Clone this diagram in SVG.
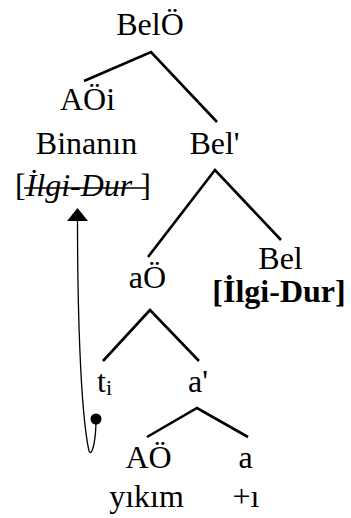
<svg xmlns="http://www.w3.org/2000/svg" width="351" height="518" viewBox="0 0 351 518">
<style>
text{font-family:"Liberation Serif","Times New Roman",serif;font-size:32px;fill:#000}
.m{text-anchor:middle}
.b{font-weight:bold}
.br{fill:none;stroke:#000;stroke-width:2.6;stroke-linecap:butt;stroke-linejoin:miter}
.mv{fill:none;stroke:#000;stroke-width:1.3}
</style>
<rect width="351" height="518" fill="#fff"/>
<g id="connectors">
<polyline class="br" points="84,81 151,52 217,122"/>
<polyline class="br" points="148,257 215,170 281,240"/>
<polyline class="br" points="103,361 150,310 199,361"/>
<polyline class="br" points="147,437 197,408 248,437"/>
<path class="mv" d="M77.5,220 C77.5,300 80,410 89,451 C92,458 96,440 96,419"/>
<polygon points="77.5,208 67,221 88,221" fill="#000"/>
<circle cx="96" cy="419" r="5.5" fill="#000"/>
</g>
<g id="BelO"><text class="m" x="150" y="35">BelÖ</text></g>
<g id="AOi"><text class="m" x="87.5" y="110">AÖi</text><text class="m" x="86.5" y="154">Binanın</text>
<text x="15" y="196">[<tspan font-style="italic">İlgi-Dur</tspan> ]</text>
<line x1="24" y1="188" x2="146" y2="188" stroke="#000" stroke-width="1.5"/></g>
<g id="Belbar"><text class="m" x="214.5" y="154">Bel'</text></g>
<g id="aO"><text class="m" x="147.5" y="288">aÖ</text></g>
<g id="Bel"><text class="m" x="280.5" y="269">Bel</text><text class="m b" x="279" y="302">[İlgi-Dur]</text></g>
<g id="ti"><text x="97" y="392">t<tspan font-size="22" dy="3">i</tspan></text></g>
<g id="abar"><text class="m" x="198" y="392">a'</text></g>
<g id="AO"><text class="m" x="148.5" y="468">AÖ</text><text class="m" x="146.5" y="507">yıkım</text></g>
<g id="a"><text class="m" x="245.5" y="468">a</text><text class="m" x="246" y="507">+ı</text></g>
</svg>
